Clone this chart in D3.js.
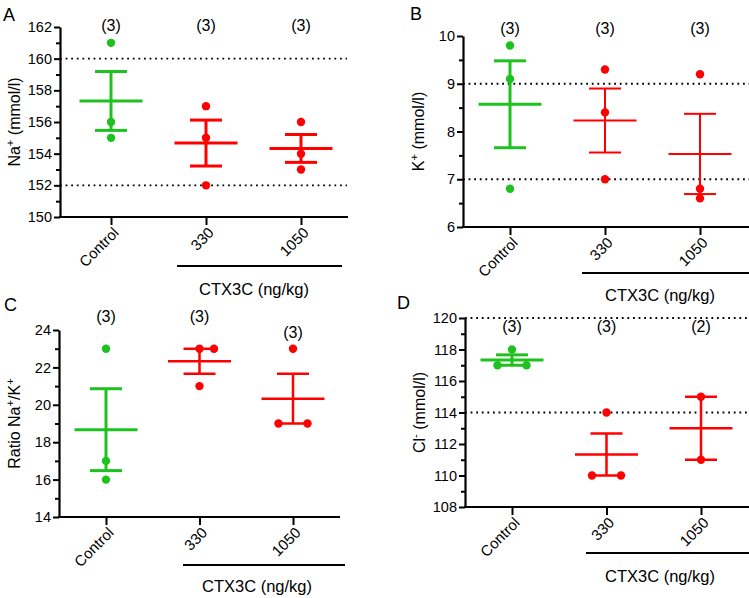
<!DOCTYPE html>
<html><head><meta charset="utf-8">
<script src="https://cdn.jsdelivr.net/npm/d3@7"></script>
<style>
html,body{margin:0;padding:0;background:#fff;}
text{font-family:"Liberation Sans",Arial,sans-serif;fill:#000;}
</style></head>
<body><svg id="c" width="749" height="598"></svg>
<script>
// ---- data ----
const categories = ["Control", "330", "1050"];
const groupLabel = "CTX3C (ng/kg)";

// Panel A: Na+
const naPoints = [[161, 156, 155], [157, 155, 152], [156, 154, 153]];
const naMean = [157.33, 154.67, 154.33];
const naSem = [1.86, 1.45, 0.88];
const naN = ["(3)", "(3)", "(3)"];
const naRef = [160, 152];
const naTicks = [150, 152, 154, 156, 158, 160, 162];

// Panel B: K+
const kPoints = [[9.8, 9.1, 6.8], [9.3, 8.4, 7.0], [9.2, 6.8, 6.6]];
const kMean = [8.57, 8.23, 7.53];
const kSem = [0.91, 0.67, 0.84];
const kN = ["(3)", "(3)", "(3)"];
const kRef = [9, 7];
const kTicks = [6, 7, 8, 9, 10];

// Panel C: Na+/K+ ratio
const rPoints = [[23, 17, 16], [23, 23, 21], [23, 19, 19]];
const rMean = [18.67, 22.33, 20.33];
const rSem = [2.19, 0.67, 1.33];
const rN = ["(3)", "(3)", "(3)"];
const rRef = [];
const rTicks = [14, 16, 18, 20, 22, 24];

// Panel D: Cl-
const clPoints = [[118, 117, 117], [114, 110, 110], [115, 111]];
const clMean = [117.33, 111.33, 113.0];
const clSem = [0.33, 1.33, 2.0];
const clN = ["(3)", "(3)", "(2)"];
const clRef = [120, 114];
const clTicks = [108, 110, 112, 114, 116, 118, 120];

// horizontal slot of each dot (overlapping values are spread)
const rSlots = [[0, 0, 0], [0, 1, 0], [0, -1, 1]];
const clSlots = [[0, -1, 1], [0, -1, 1], [0, 0]];

const colors = ["#1ec21e", "#ff0000", "#ff0000"];

const svg = d3.select("#c");

function panel(cfg) {
  const g = svg.append("g");
  const y = d3.scaleLinear().domain([cfg.ticks[0], cfg.ticks[cfg.ticks.length - 1]]).range([cfg.yB, cfg.yT]);
  const x = d3.scalePoint().domain(categories).range([cfg.x0 + cfg.off, cfg.x0 + cfg.off + 2 * cfg.step]);

  // reference dotted lines
  cfg.ref.forEach(r => {
    g.append("line").attr("x1", cfg.x0).attr("x2", cfg.xRef)
      .attr("y1", y(r)).attr("y2", y(r))
      .attr("stroke", "#000").attr("stroke-width", 1.8)
      .attr("stroke-dasharray", "1.8,3.8");
  });

  // minor ticks
  const step = (cfg.ticks[1] - cfg.ticks[0]) / 2;
  const minor = [];
  for (let i = 0; i < cfg.ticks.length - 1; i++) minor.push(cfg.ticks[i] + step);
  const ym = g.append("g").attr("transform", `translate(${cfg.x0},0)`)
    .call(d3.axisLeft(y).tickValues(minor).tickSize(4).tickSizeOuter(0).tickFormat(""));
  ym.select(".domain").remove();
  ym.selectAll("line").attr("stroke-width", 2);

  // y axis
  const ya = g.append("g").attr("transform", `translate(${cfg.x0},0)`)
    .call(d3.axisLeft(y).tickValues(cfg.ticks).tickSize(6).tickSizeOuter(0).tickPadding(2).tickFormat(d3.format("d")));
  ya.select(".domain").attr("stroke-width", 2.2);
  ya.selectAll("line").attr("stroke-width", 2);
  ya.selectAll("text").attr("font-size", 14.5).attr("font-family", "Liberation Sans, Arial, sans-serif").attr("fill", "#000");

  // x axis
  const xa = g.append("g").attr("transform", `translate(0,${cfg.yB})`)
    .call(d3.axisBottom(x).tickSize(8).tickSizeOuter(0).tickFormat(""));
  xa.select(".domain").remove();
  xa.selectAll("line").attr("stroke-width", 2);
  g.append("line").attr("x1", cfg.x0 - 1).attr("x2", cfg.xEnd).attr("y1", cfg.yB).attr("y2", cfg.yB)
    .attr("stroke", "#000").attr("stroke-width", 2.2);

  // category labels
  categories.forEach(c => {
    g.append("text").attr("transform", `translate(${x(c) + 5},${cfg.yB + 13}) rotate(-45)`)
      .attr("text-anchor", "end").attr("dy", "0.35em").attr("font-size", 15).text(c);
  });

  // data
  categories.forEach((c, i) => {
    const col = colors[i];
    const cx = x(c);
    const lw = i === 0 ? 3 : cfg.redW;
    const m = cfg.mean[i], s = cfg.sem[i];
    g.append("line").attr("x1", cx).attr("x2", cx).attr("y1", y(m - s)).attr("y2", y(m + s))
      .attr("stroke", col).attr("stroke-width", lw);
    [m - s, m + s].forEach(v => g.append("line").attr("x1", cx - 16).attr("x2", cx + 16)
      .attr("y1", y(v)).attr("y2", y(v)).attr("stroke", col).attr("stroke-width", lw));
    g.append("line").attr("x1", cx - 31.5).attr("x2", cx + 31.5).attr("y1", y(m)).attr("y2", y(m))
      .attr("stroke", col).attr("stroke-width", lw);
    cfg.points[i].forEach((v, j) => {
      const slot = cfg.slots ? cfg.slots[i][j] : 0;
      g.append("circle").attr("cx", cx + slot * 14.5).attr("cy", y(v)).attr("r", 4.2).attr("fill", col);
    });
    g.append("text").attr("x", cx).attr("y", cfg.nY[i]).attr("text-anchor", "middle")
      .attr("font-size", 16).text(cfg.n[i]);
  });

  // y label
  const yl = g.append("text").attr("transform", `translate(${cfg.ylX},${(cfg.yT + cfg.yB) / 2}) rotate(-90)`)
    .attr("text-anchor", "middle").attr("font-size", cfg.ylSize || 16);
  cfg.ylabel.forEach(p => {
    const t = yl.append("tspan").text(p.t);
    if (p.sup) t.attr("baseline-shift", "super").attr("font-size", "0.7em");
  });

  // group bracket
  g.append("line").attr("x1", cfg.gx1).attr("x2", cfg.gx2).attr("y1", cfg.gy).attr("y2", cfg.gy)
    .attr("stroke", "#000").attr("stroke-width", 2);
  g.append("text").attr("x", cfg.gtx).attr("y", cfg.gty).attr("text-anchor", "middle")
    .attr("font-size", 16.5).text(groupLabel);

  // panel letter
  g.append("text").attr("x", cfg.lx).attr("y", cfg.ly).attr("font-size", 18).text(cfg.letter);
}

panel({letter: "A", lx: 3, ly: 21, x0: 60, xEnd: 348, xRef: 347, yT: 27, yB: 217, off: 51, step: 95,
  ticks: naTicks, ref: naRef, points: naPoints, mean: naMean, sem: naSem, n: naN, nY: [31, 31, 31],
  redW: 3, ylX: 20, ylabel: [{t: "Na"}, {t: "+", sup: true}, {t: " (mmol/l)"}],
  gx1: 177, gx2: 342, gy: 266, gtx: 254, gty: 295});

panel({letter: "B", lx: 410, ly: 20, x0: 463, xEnd: 749, xRef: 749, yT: 36, yB: 227, off: 47, step: 95,
  ticks: kTicks, ref: kRef, points: kPoints, mean: kMean, sem: kSem, n: kN, nY: [34, 34, 34],
  redW: 2, ylX: 424, ylabel: [{t: "K"}, {t: "+", sup: true}, {t: " (mmol/l)"}],
  gx1: 582, gx2: 749, gy: 273, gtx: 660, gty: 301});

panel({letter: "C", lx: 4, ly: 311, x0: 59, xEnd: 340, xRef: 340, yT: 330, yB: 517, off: 47, step: 93.5,
  ticks: rTicks, ref: rRef, points: rPoints, mean: rMean, sem: rSem, n: rN, nY: [322, 322, 338],
  slots: rSlots, redW: 2.5, ylX: 20, ylabel: [{t: "Ratio Na"}, {t: "+", sup: true}, {t: "/K"}, {t: "+", sup: true}],
  gx1: 183, gx2: 345, gy: 565, gtx: 257, gty: 592});

panel({letter: "D", lx: 397, ly: 309, x0: 465, xEnd: 749, xRef: 749, yT: 318, yB: 507, off: 47, step: 94.5,
  ticks: clTicks, ref: clRef, points: clPoints, mean: clMean, sem: clSem, n: clN, nY: [332, 332, 332],
  slots: clSlots, redW: 2.5, ylX: 425, ylabel: [{t: "Cl"}, {t: "-", sup: true}, {t: " (mmol/l)"}],
  gx1: 586, gx2: 749, gy: 553, gtx: 660, gty: 582});
</script></body></html>
